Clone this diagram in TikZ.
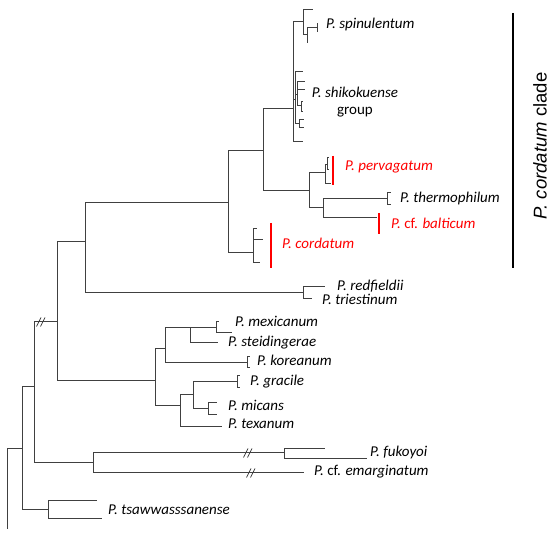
\documentclass[tikz,border=0pt]{standalone}
\usepackage{fontspec}
\setmainfont{Carlito}
\newfontfamily\cladefont{Liberation Sans}
\begin{document}
\begin{tikzpicture}[x=1pt, y=-1pt]
    \tikzset{branch/.style={draw=black!75, line width=1pt},
             brk/.style={draw=black!75, line width=0.8pt},
             taxon/.style={anchor=west, inner sep=0pt, text height=10pt, text depth=2.7pt,
                           font=\fontsize{15}{17}\selectfont\itshape},
             redtaxon/.style={taxon, text=red},
             redbar/.style={draw=red, line width=2.2pt},
             cladebar/.style={draw=black, line width=2.2pt}}
    \useasboundingbox (0,0) rectangle (550,537);

    % Root and outer groups
    \coordinate (root) at (7,449);
    \coordinate (rootend) at (7,529);
    \coordinate (n1) at (22,449);
    \coordinate (n2) at (34,387);
    \coordinate (tsa) at (48,510);
    \coordinate (tsa_a) at (97,501);
    \coordinate (tsa_b) at (102,519);
    \coordinate (fe) at (93,463);
    \coordinate (fu) at (284,453);
    \coordinate (fu_a) at (325,449);
    \coordinate (fu_b) at (367,459);
    \coordinate (em) at (304,473);

    \draw[branch] (root) -- (rootend);
    \draw[branch] (root) -- (n1);
    \draw[branch] (n1) |- (n2);
    \draw[branch] (n1) |- (tsa);
    \draw[branch] (tsa) |- (tsa_a);
    \draw[branch] (tsa) |- (tsa_b);
    \draw[branch] (n2) |- (fe);
    \draw[branch] (fe) |- (fu);
    \draw[branch] (fe) |- (em);
    \draw[branch] (fu) |- (fu_a);
    \draw[branch] (fu) |- (fu_b);

    % Main clade
    \coordinate (n3) at (57,322);
    \coordinate (n4) at (85,242);
    \coordinate (n5) at (155,381);
    \coordinate (n6) at (228,203);
    \coordinate (rt) at (303,293);
    \coordinate (rt_a) at (325,287);
    \coordinate (rt_b) at (312,299);

    \draw[branch] (n2) |- (n3);
    \draw[branch] (n3) |- (n4);
    \draw[branch] (n3) |- (n5);
    \draw[branch] (n4) |- (n6);
    \draw[branch] (n4) |- (rt);
    \draw[branch] (rt) |- (rt_a);
    \draw[branch] (rt) |- (rt_b);

    % P. cordatum clade
    \coordinate (co) at (253,253);
    \coordinate (co_a) at (257,229);
    \coordinate (co_b) at (263,240);
    \coordinate (co_c) at (260,263);
    \coordinate (n7) at (263,151);
    \coordinate (n8) at (293,109);
    \coordinate (n9) at (309,191);
    \coordinate (pv) at (325,173);
    \coordinate (pv_s) at (327,165);
    \coordinate (pv_a) at (329,158);
    \coordinate (pv_b) at (329,170);
    \coordinate (pv_c) at (331,184);
    \coordinate (n10) at (323,208);
    \coordinate (th) at (387,199);
    \coordinate (th_a) at (391,193);
    \coordinate (th_b) at (391,205);
    \coordinate (ba) at (377,218);

    \draw[branch] (n6) |- (n7);
    \draw[branch] (n6) |- (co);
    \draw[branch] (co) |- (co_a);
    \draw[branch] (co) |- (co_b);
    \draw[branch] (co) |- (co_c);
    \draw[branch] (n7) |- (n8);
    \draw[branch] (n7) |- (n9);
    \draw[branch] (n9) |- (pv);
    \draw[branch] (n9) |- (n10);
    \draw[branch] (pv) |- (pv_s);
    \draw[branch] (pv_s) |- (pv_a);
    \draw[branch] (pv_s) |- (pv_b);
    \draw[branch] (pv) |- (pv_c);
    \draw[branch] (n10) |- (th);
    \draw[branch] (n10) |- (ba);
    \draw[branch] (th) |- (th_a);
    \draw[branch] (th) |- (th_b);

    % spinulentum and shikokuense group
    \coordinate (sp) at (303,22);
    \coordinate (sp_a) at (313,10);
    \coordinate (sp2) at (307,35);
    \coordinate (sp3) at (317,28);
    \coordinate (sp3_a) at (318,24);
    \coordinate (sp3_b) at (318,32);
    \coordinate (sp2_b) at (308,43);
    \coordinate (sh) at (295,100);
    \coordinate (sh_a) at (303,72);
    \coordinate (sh2) at (297,95);
    \coordinate (sh2_a) at (305,82);
    \coordinate (sh2_b) at (305,90);
    \coordinate (sh4) at (301,106);
    \coordinate (sh4_a) at (303,102);
    \coordinate (sh4_b) at (303,112);
    \coordinate (sh3) at (299,124);
    \coordinate (sh3_a) at (304,120);
    \coordinate (sh3_b) at (304,128);
    \coordinate (sh_z) at (303,142);

    \draw[branch] (n8) |- (sp);
    \draw[branch] (n8) |- (sh);
    \draw[branch] (n8) |- (sh_z);
    \draw[branch] (sp) |- (sp_a);
    \draw[branch] (sp) |- (sp2);
    \draw[branch] (sp2) |- (sp3);
    \draw[branch] (sp2) |- (sp2_b);
    \draw[branch] (sp3) |- (sp3_a);
    \draw[branch] (sp3) |- (sp3_b);
    \draw[branch] (sh) |- (sh_a);
    \draw[branch] (sh) |- (sh2);
    \draw[branch] (sh) |- (sh3);
    \draw[branch] (sh2) |- (sh2_a);
    \draw[branch] (sh2) |- (sh2_b);
    \draw[branch] (sh2) |- (sh4);
    \draw[branch] (sh4) |- (sh4_a);
    \draw[branch] (sh4) |- (sh4_b);
    \draw[branch] (sh3) |- (sh3_a);
    \draw[branch] (sh3) |- (sh3_b);

    % mexicanum -- texanum
    \coordinate (n11) at (165,349);
    \coordinate (n12) at (180,406);
    \coordinate (n13) at (190,328);
    \coordinate (mx) at (216,328);
    \coordinate (mx_a) at (219,322);
    \coordinate (mx_b) at (232,333);
    \coordinate (st) at (218,343);
    \coordinate (ko) at (247,363);
    \coordinate (ko_a) at (250,357);
    \coordinate (ko_b) at (250,368);
    \coordinate (n14) at (193,395);
    \coordinate (gr) at (237,382);
    \coordinate (gr_a) at (240,376);
    \coordinate (gr_b) at (240,388);
    \coordinate (mi) at (208,409);
    \coordinate (mi_a) at (217,403);
    \coordinate (mi_b) at (217,415);
    \coordinate (tx) at (222,427);

    \draw[branch] (n5) |- (n11);
    \draw[branch] (n5) |- (n12);
    \draw[branch] (n11) |- (n13);
    \draw[branch] (n11) |- (ko);
    \draw[branch] (n13) |- (mx);
    \draw[branch] (n13) |- (st);
    \draw[branch] (mx) |- (mx_a);
    \draw[branch] (mx) |- (mx_b);
    \draw[branch] (ko) |- (ko_a);
    \draw[branch] (ko) |- (ko_b);
    \draw[branch] (n12) |- (n14);
    \draw[branch] (n12) |- (tx);
    \draw[branch] (n14) |- (gr);
    \draw[branch] (n14) |- (mi);
    \draw[branch] (gr) |- (gr_a);
    \draw[branch] (gr) |- (gr_b);
    \draw[branch] (mi) |- (mi_a);
    \draw[branch] (mi) |- (mi_b);

    % Breaks
    \coordinate (brk1) at (39,322);
    \coordinate (brk2) at (246,453);
    \coordinate (brk3) at (249,473);
    \draw[brk] (brk1) ++(-2.5,4.5) -- ++(4.5,-9);
    \draw[brk] (brk1) ++(1.5,4.5) -- ++(4.5,-9);
    \draw[brk] (brk2) ++(-2.5,4.5) -- ++(4.5,-9);
    \draw[brk] (brk2) ++(1.5,4.5) -- ++(4.5,-9);
    \draw[brk] (brk3) ++(-2.5,4.5) -- ++(4.5,-9);
    \draw[brk] (brk3) ++(1.5,4.5) -- ++(4.5,-9);

    % Red bars
    \draw[redbar] (333,156) -- (333,185);
    \draw[redbar] (379,213) -- (379,234);
    \draw[redbar] (271,223) -- (271,268);

    % Taxon labels
    \node[taxon] (l_spin) at (326,25) {P. spinulentum};
    \node[taxon, anchor=center, align=center, text height=, text depth=] (l_shik) at (355,102) {P. shikokuense\\\upshape group};
    \node[redtaxon] (l_perv) at (345,167) {P. pervagatum};
    \node[taxon] (l_therm) at (400,199) {P. thermophilum};
    \node[redtaxon] (l_balt) at (391,225) {P. \textup{cf.} balticum};
    \node[redtaxon] (l_cord) at (282,245) {P. cordatum};
    \node[taxon] (l_redf) at (337,287) {P. redfieldii};
    \node[taxon] (l_tries) at (322,301) {P. triestinum};
    \node[taxon] (l_mex) at (235,323) {P. mexicanum};
    \node[taxon] (l_steid) at (228,343) {P. steidingerae};
    \node[taxon] (l_kor) at (257,362) {P. koreanum};
    \node[taxon] (l_grac) at (250,382) {P. gracile};
    \node[taxon] (l_mic) at (228,407) {P. micans};
    \node[taxon] (l_tex) at (228,425) {P. texanum};
    \node[taxon] (l_fuk) at (370,453) {P. fukoyoi};
    \node[taxon] (l_emarg) at (314,472) {P. \textup{cf.} emarginatum};
    \node[taxon] (l_tsaw) at (108,511) {P. tsawwasssanense};

    % Clade bar
    \coordinate (cb_top) at (513,13);
    \coordinate (cb_bot) at (513,268);
    \draw[cladebar] (cb_top) -- (cb_bot);
    \node[rotate=90, inner sep=0pt, font=\cladefont\fontsize{18.5}{22}\selectfont] (l_clade) at (540,146) {\textit{P. cordatum} clade};
\end{tikzpicture}
\end{document}
